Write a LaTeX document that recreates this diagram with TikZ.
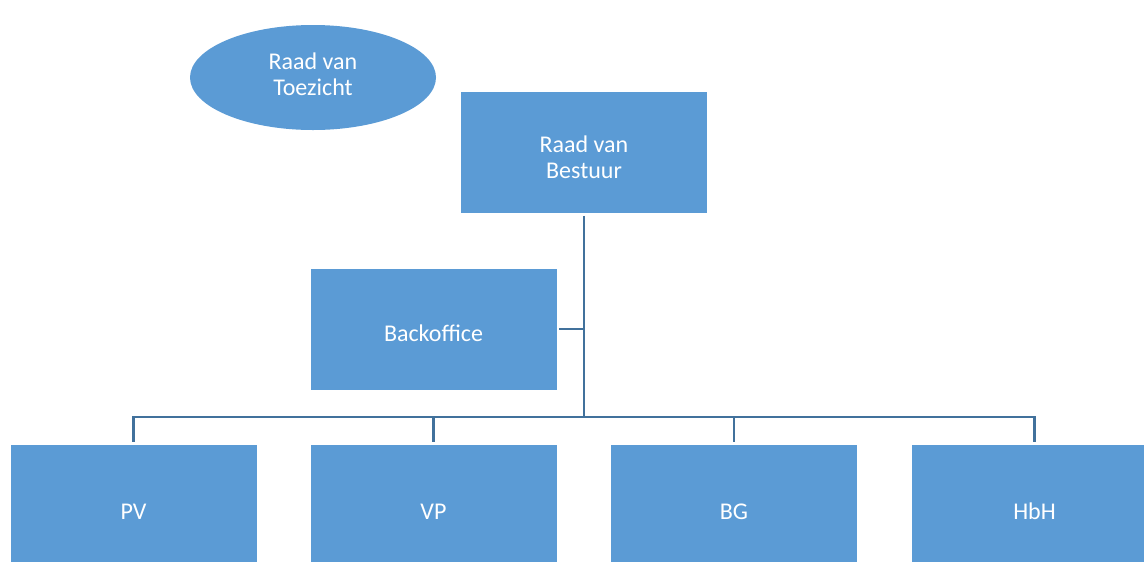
\documentclass[tikz,border=0pt]{standalone}
\usepackage{fontspec}
\setmainfont{Carlito}
\usetikzlibrary{shapes.geometric}
\definecolor{boxfill}{HTML}{5B9BD5}
\definecolor{linecol}{HTML}{41719C}
\tikzset{
  unit/.style={x=0.75pt,y=-0.75pt},
  txt/.style={text=white, align=center, inner sep=0pt, font=\fontsize{18pt}{19.5pt}\selectfont},
  orgbox/.style={rectangle, fill=boxfill, draw=none, minimum width=184.5pt, minimum height=90.75pt, inner sep=0pt},
  orgell/.style={ellipse, fill=boxfill, draw=none, minimum width=184.5pt, minimum height=78.75pt, inner sep=0pt},
  conn/.style={draw=linecol, line width=2.1pt}
}
\begin{document}
\begin{tikzpicture}[unit]
\useasboundingbox (0,0) rectangle (1144,561);
\clip (0,0) rectangle (1144,561);
\node[orgell, label={[txt, yshift=2.2pt]center:{Raad van\\Toezicht}}] (rvt) at (313,77.5) {};
\node[orgbox, label={[txt, yshift=-3.8pt]center:{Raad van\\Bestuur}}] (rvb) at (584,152.5) {};
\node[orgbox, label={[txt, yshift=-3pt]center:{Backoffice}}] (bo) at (433.5,329) {};
\node[orgbox, label={[txt, yshift=-4.5pt]center:{PV}}] (pv) at (133.5,505.5) {};
\node[orgbox, label={[txt, yshift=-4.5pt]center:{VP}}] (vp) at (433.5,505.5) {};
\node[orgbox, label={[txt, yshift=-4.5pt]center:{BG}}] (bg) at (734,505.5) {};
\node[orgbox, label={[txt, yshift=-4.5pt]center:{HbH}}] (hbh) at (1034.5,505.5) {};
\coordinate (j) at (584,417);
\coordinate (jb) at (584,329);
\draw[conn, shorten <=2pt] (rvb.south) -- (j);
\draw[conn, shorten <=2pt] (bo.east) -- (jb);
\draw[conn, shorten >=2pt] (j) -| (pv.north);
\draw[conn, shorten >=2pt] (j) -| (vp.north);
\draw[conn, shorten >=2pt] (j) -| (bg.north);
\draw[conn, shorten >=2pt] (j) -| (hbh.north);
\end{tikzpicture}
\end{document}
